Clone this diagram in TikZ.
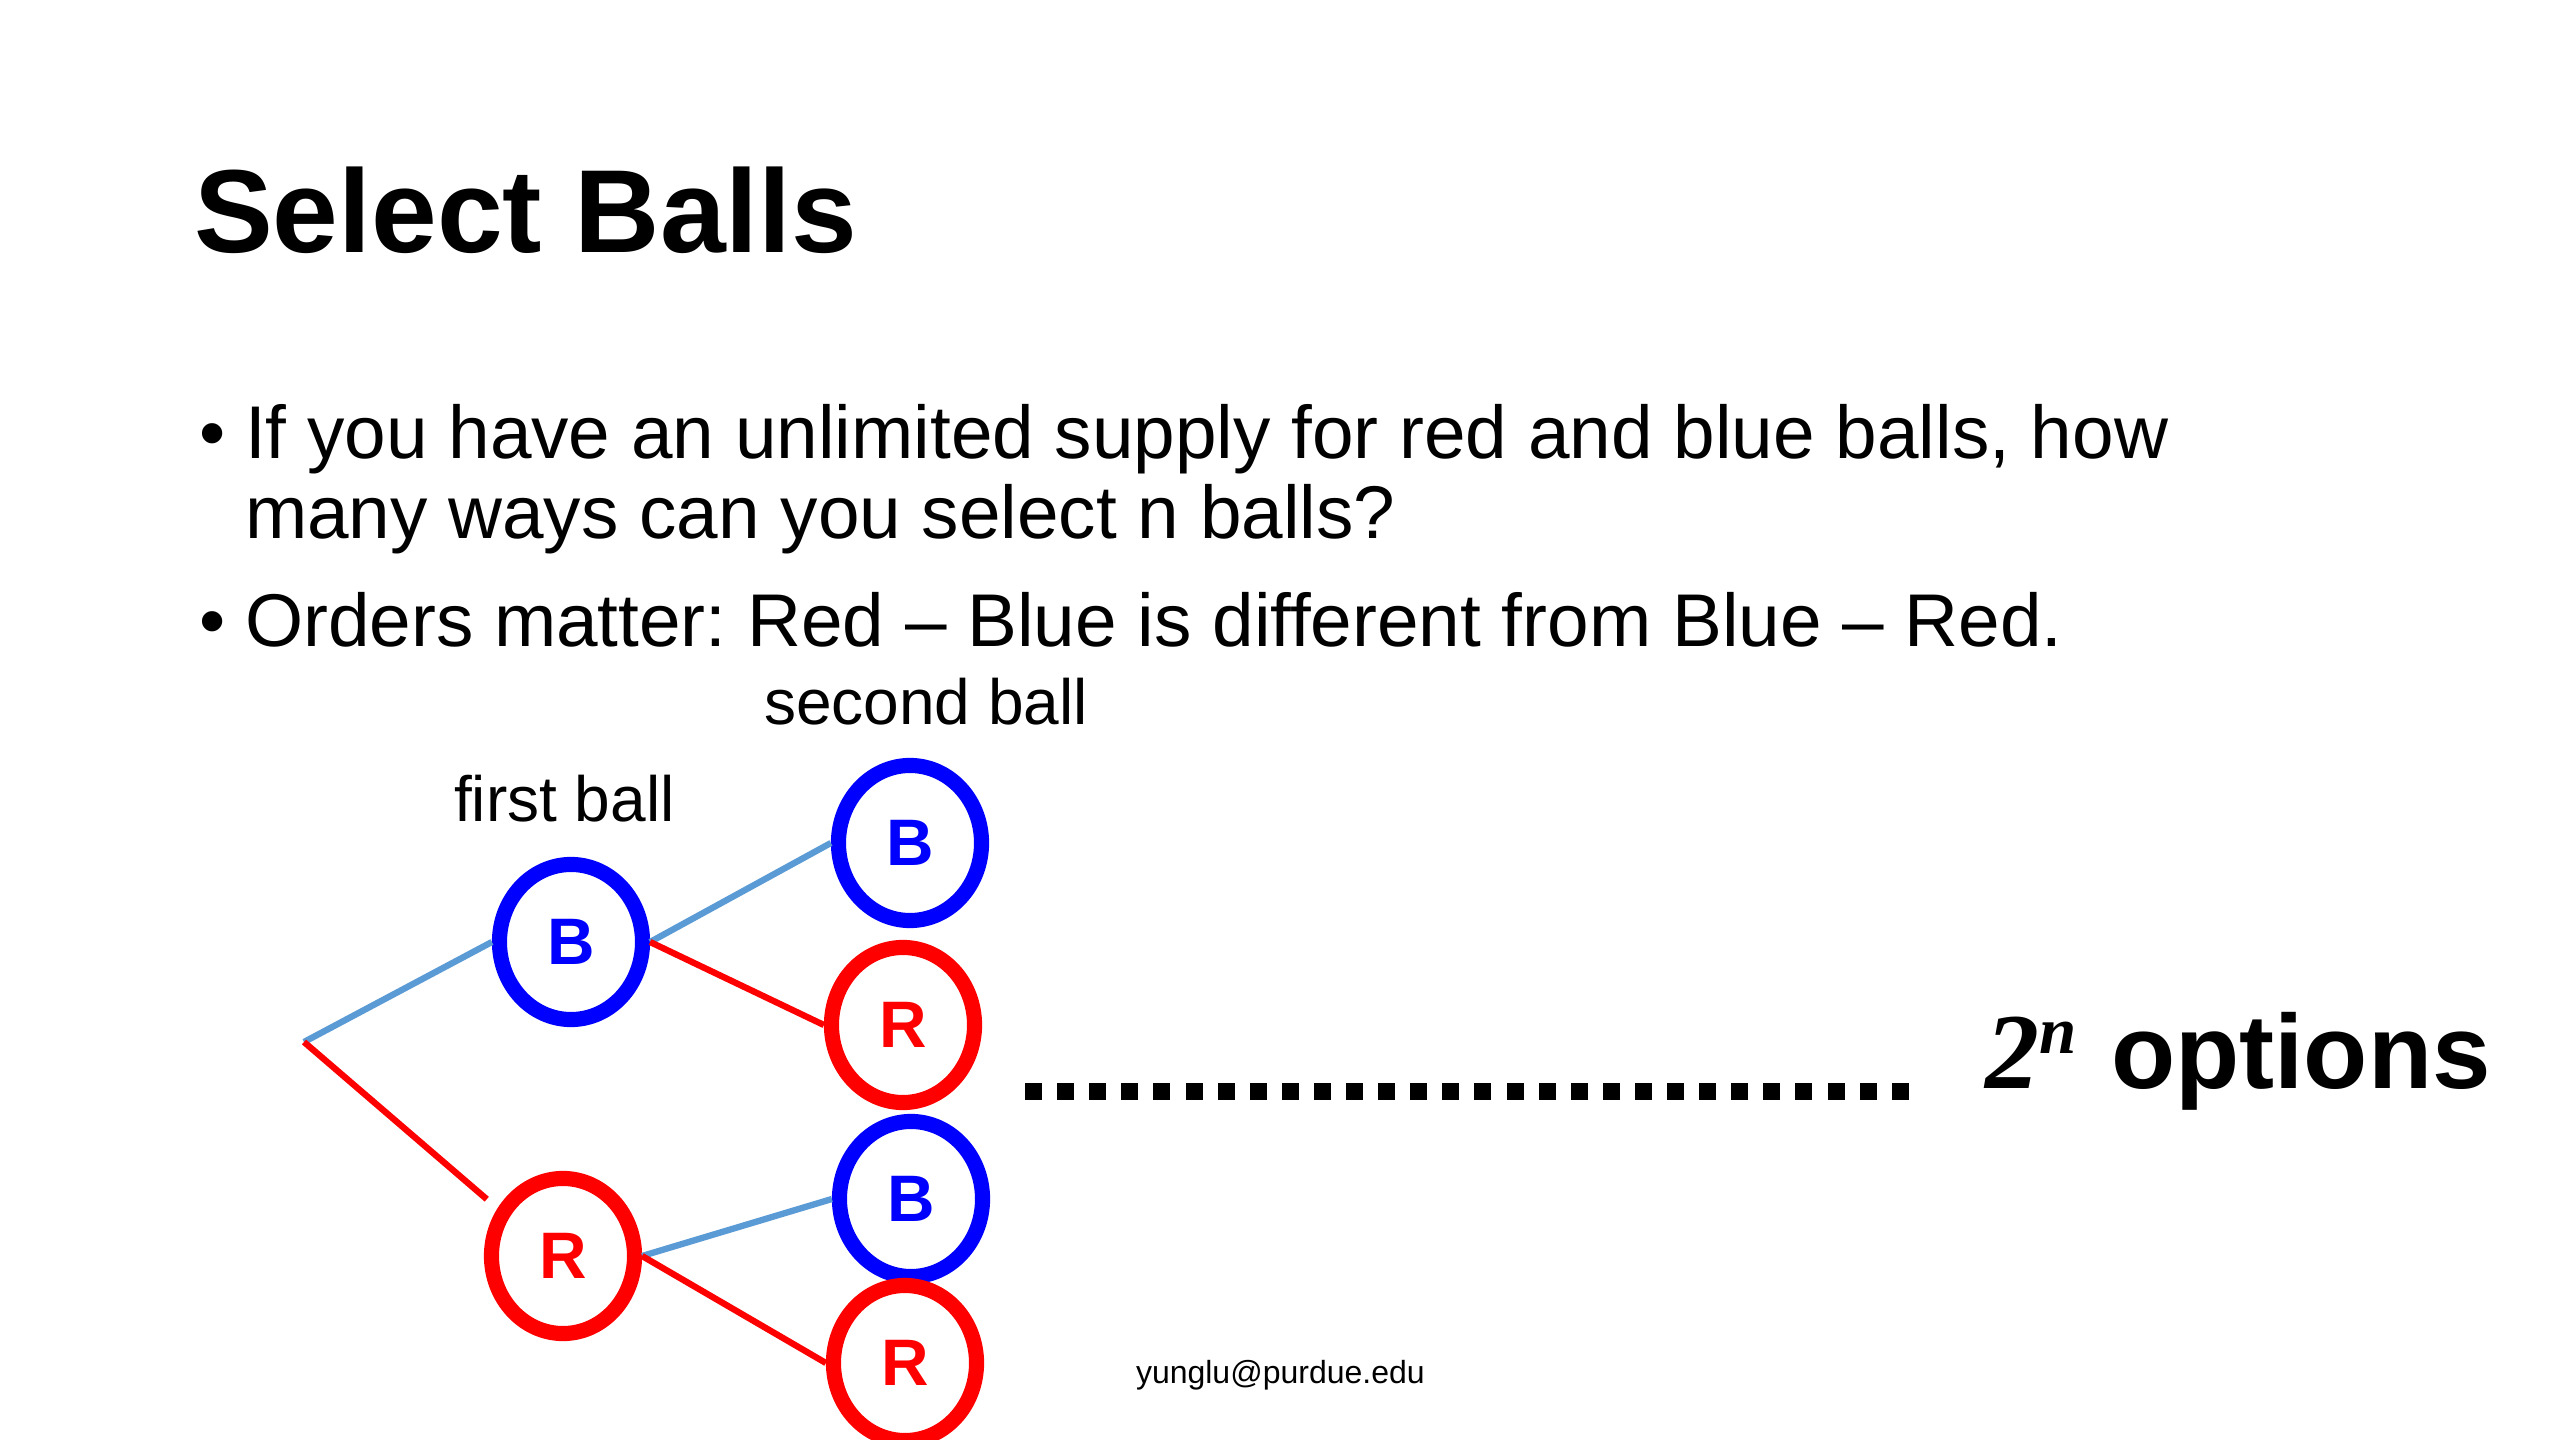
\documentclass[tikz,border=0pt]{standalone}
\usepackage{fontspec}
\setmainfont{Liberation Sans}
\newfontfamily\tnrfont{Liberation Serif}
\usetikzlibrary{shapes.geometric}
\definecolor{ballblue}{RGB}{0,0,255}
\definecolor{ballred}{RGB}{255,0,0}
\definecolor{linkblue}{RGB}{91,155,213}
\frenchspacing
\tikzset{
 px/.style={x=0.01cm,y=-0.01cm},
 txt/.style={anchor=base west, inner sep=0pt, outer sep=0pt},
 bodytxt/.style={txt, font=\fontsize{21.25}{25}\selectfont},
 lbltxt/.style={txt, font=\fontsize{18.2}{22}\selectfont},
 ball/.style={ellipse, draw, line width=4.3pt, minimum width=1.43cm, minimum height=1.55cm, inner sep=0pt, font=\fontsize{18.7}{18.7}\selectfont\bfseries},
 bball/.style={ball, draw=ballblue, text=ballblue},
 rball/.style={ball, draw=ballred, text=ballred},
 blink/.style={draw=linkblue, line width=1.8pt},
 rlink/.style={draw=ballred, line width=1.8pt},
}
\begin{document}
\begin{tikzpicture}[px]
\useasboundingbox (0,0) rectangle (2560,1440);
\fill[white] (0,0) rectangle (2560,1440);
\node[txt, font=\fontsize{33.6}{40}\selectfont\bfseries] (title) at (194,253) {Select Balls};
\node[bodytxt] (bul1) at (199,459) {•};
\node[bodytxt] (line1) at (245,459) {If you have an unlimited supply for red and blue balls, how};
\node[bodytxt] (line2) at (245,539) {many ways can you select n balls?};
\node[bodytxt] (bul2) at (199,647) {•};
\node[bodytxt] (line3) at (245,647) {Orders matter: Red – Blue is different from Blue – Red.};
\node[lbltxt] (second) at (764,725) {second ball};
\node[lbltxt] (first) at (454,821) {first ball};
\coordinate (root) at (304,1042);
\node[bball] (b1) at (571,942) {B};
\node[rball] (r1) at (563,1256) {R};
\node[bball] (b2) at (910,843) {B};
\node[rball] (r2) at (903,1025) {R};
\node[bball] (b3) at (911,1199) {B};
\node[rball] (r4) at (905,1363) {R};
\draw[blink] (root) -- (b1.west);
\draw[rlink, shorten >=4pt] (root) -- (r1.144);
\draw[blink] (b1.east) -- (b2.west);
\draw[rlink] (b1.east) -- (r2.west);
\draw[blink] (r1.east) -- (b3.west);
\draw[rlink] (r1.east) -- (r4.west);
\foreach \i in {0,...,27} \fill (1025+\i*32.1,1083) rectangle ++(17,17);
\node[txt, font=\fontsize{30.7}{36}\selectfont\tnrfont\bfseries\itshape] (two) at (1985,1088) {2\raisebox{35\dimexpr0.01cm\relax}{\fontsize{19}{20}\selectfont n}};
\node[txt, font=\fontsize{29.9}{36}\selectfont\bfseries] (options) at (2111,1088) {options};
\node[txt, font=\fontsize{9.1}{11}\selectfont] (footer) at (1136,1383) {yunglu@purdue.edu};
\end{tikzpicture}
\end{document}
